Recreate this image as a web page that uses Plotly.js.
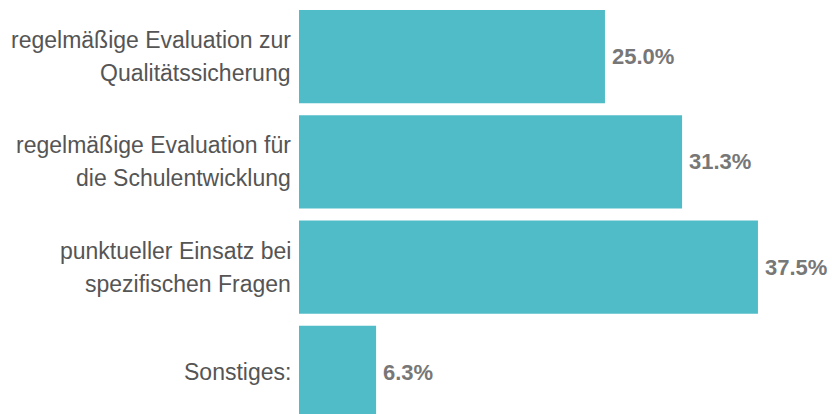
<!DOCTYPE html>
<html>
<head>
<meta charset="utf-8">
<script src="https://cdn.plot.ly/plotly-3.0.1.min.js"></script>
<style>html,body{margin:0;padding:0;background:#fff;}#chart{width:832px;height:414px;}</style>
</head>
<body>
<div id="chart"></div>
<script>
var categories = [
  "regelmäßige Evaluation zur<br>Qualitätssicherung",
  "regelmäßige Evaluation für<br>die Schulentwicklung",
  "punktueller Einsatz bei<br>spezifischen Fragen",
  "Sonstiges:"
];
var values = [25.0, 31.3, 37.5, 6.3];
var valueLabels = ["25.0%", "31.3%", "37.5%", "6.3%"];

var trace = {
  type: "bar",
  orientation: "h",
  x: values,
  y: categories,
  width: 0.885,
  marker: {color: "#50BCC8"},
  hoverinfo: "none"
};

var FONT = "Liberation Sans, Arial, sans-serif";
var LINE_GAP = 33;

var annotations = values.map(function (v, i) {
  return {
    x: v, y: categories[i], xref: "x", yref: "y",
    text: "<b>" + valueLabels[i] + "</b>", showarrow: false,
    xanchor: "left", yanchor: "middle", xshift: 5,
    font: {family: FONT, size: 22, color: "#777777"}
  };
});

// category labels, one annotation per line for the wider line spacing
categories.forEach(function (c) {
  var lines = c.split("<br>");
  var n = lines.length;
  lines.forEach(function (line, j) {
    annotations.push({
      x: 0, y: c, xref: "x", yref: "y",
      text: line, showarrow: false,
      xanchor: "right", yanchor: "middle", xshift: -6,
      yshift: ((n - 1) / 2 - j) * LINE_GAP,
      font: {family: FONT, size: 23, color: "#555555"}
    });
  });
});

var layout = {
  width: 832, height: 414,
  margin: {l: 299, r: 0, t: 0, b: 0, pad: 0},
  paper_bgcolor: "#ffffff", plot_bgcolor: "#ffffff",
  showlegend: false,
  xaxis: {range: [0, 43.55], visible: false, fixedrange: true},
  yaxis: {
    type: "category",
    range: [3.395, -0.537],
    showgrid: false, zeroline: false, showline: false,
    showticklabels: false, ticks: ""
  },
  annotations: annotations
};

Plotly.newPlot("chart", [trace], layout, {staticPlot: true, displayModeBar: false});
</script>
</body>
</html>
